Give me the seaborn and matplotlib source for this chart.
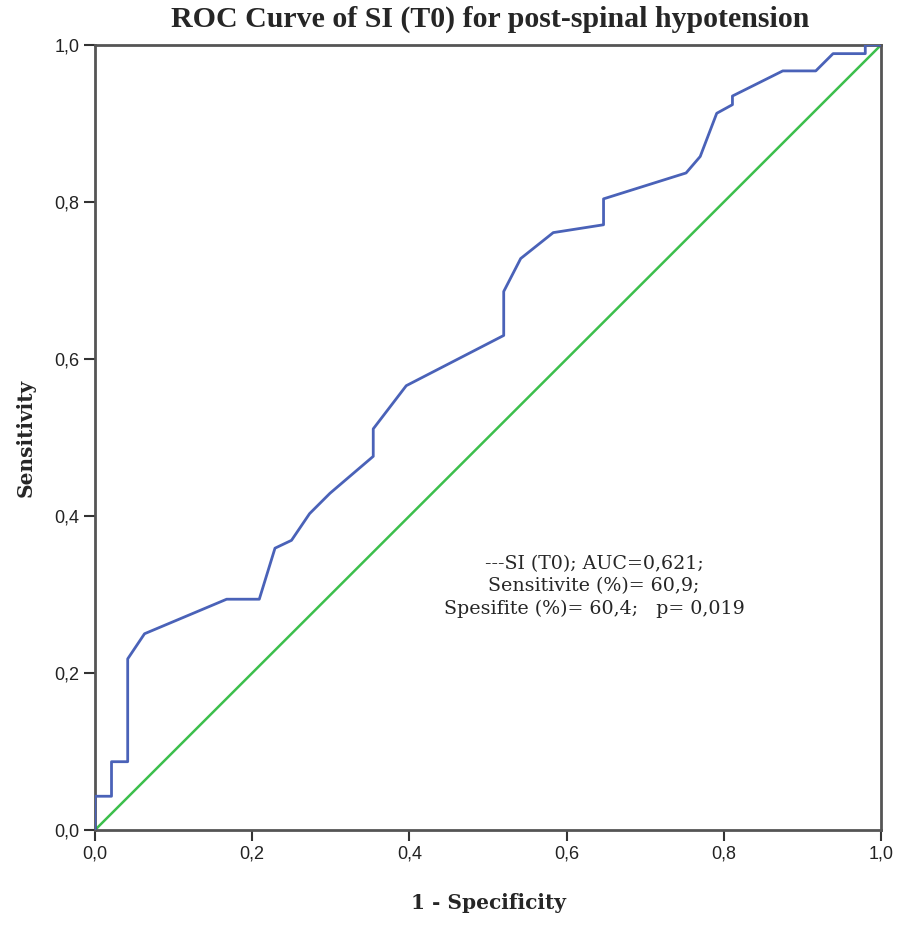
import matplotlib
matplotlib.use("Agg")
import matplotlib.pyplot as plt
import seaborn as sns
import pandas as pd
import numpy as np

# ROC curve points (1 - specificity, sensitivity)
fpr = [0.0, 0.0, 0.021, 0.021, 0.0416, 0.0416, 0.063, 0.1675, 0.209, 0.229, 0.25,
       0.273, 0.299, 0.354, 0.354, 0.396, 0.52, 0.52, 0.5416, 0.583, 0.647, 0.647,
       0.752, 0.77, 0.791, 0.811, 0.811, 0.875, 0.917, 0.939, 0.98, 0.98, 1.0]
tpr = [0.0, 0.043, 0.043, 0.087, 0.087, 0.218, 0.25, 0.294, 0.294, 0.359, 0.369,
       0.403, 0.429, 0.476, 0.511, 0.566, 0.63, 0.686, 0.728, 0.761, 0.771, 0.804,
       0.837, 0.858, 0.913, 0.924, 0.935, 0.967, 0.967, 0.989, 0.989, 1.0, 1.0]
ref_x = [0.0, 1.0]
ref_y = [0.0, 1.0]
ticks = [0.0, 0.2, 0.4, 0.6, 0.8, 1.0]
tick_labels = ["0,0", "0,2", "0,4", "0,6", "0,8", "1,0"]

sns.set_style("white")
plt.rcParams['font.family'] = ['Liberation Sans', 'DejaVu Sans']

fig = plt.figure(figsize=(9.02, 9.25), dpi=100)
ax = fig.add_axes([95/902, 95/925, 786/902, 785/925])

df = pd.DataFrame({"fpr": fpr, "tpr": tpr})
ax.plot(ref_x, ref_y, color="#3cbf4c", lw=1.8, zorder=2)
sns.lineplot(data=df, x="fpr", y="tpr", sort=False, estimator=None,
             color="#4a62b8", lw=2.0, ax=ax, zorder=3)

ax.set_xlim(0, 1)
ax.set_ylim(0, 1)
ax.set_xticks(ticks)
ax.set_yticks(ticks)
ax.set_xticklabels(tick_labels)
ax.set_yticklabels(tick_labels)
ax.tick_params(axis="both", which="major", bottom=True, left=True, direction="out",
               length=8, width=1.5, color="#333333",
               labelsize=13, labelcolor="#222222", pad=3)
for s in ax.spines.values():
    s.set_color("#555555")
    s.set_linewidth(2.0)

lab_serif = ['DejaVu Serif']
ax.set_xlabel("1 - Specificity", family=lab_serif, fontweight="bold", fontsize=14.5, labelpad=22)
ax.set_ylabel("Sensitivity", family=lab_serif, fontweight="bold", fontsize=14.5, labelpad=14)
fig.text(0.543, 0.979, "ROC Curve of SI (T0) for post-spinal hypotension",
         family=['Liberation Serif', 'DejaVu Serif'], fontweight="bold", fontsize=21.5,
         ha="center", va="center")

ax.text(0.635, 0.31, "---SI (T0); AUC=0,621;\nSensitivite (%)= 60,9;\nSpesifite (%)= 60,4;   p= 0,019",
        family=['DejaVu Serif'], fontsize=13.7, ha="center", va="center", linespacing=1.3,
        transform=ax.transData)

fig.savefig("out.png", dpi=100)
